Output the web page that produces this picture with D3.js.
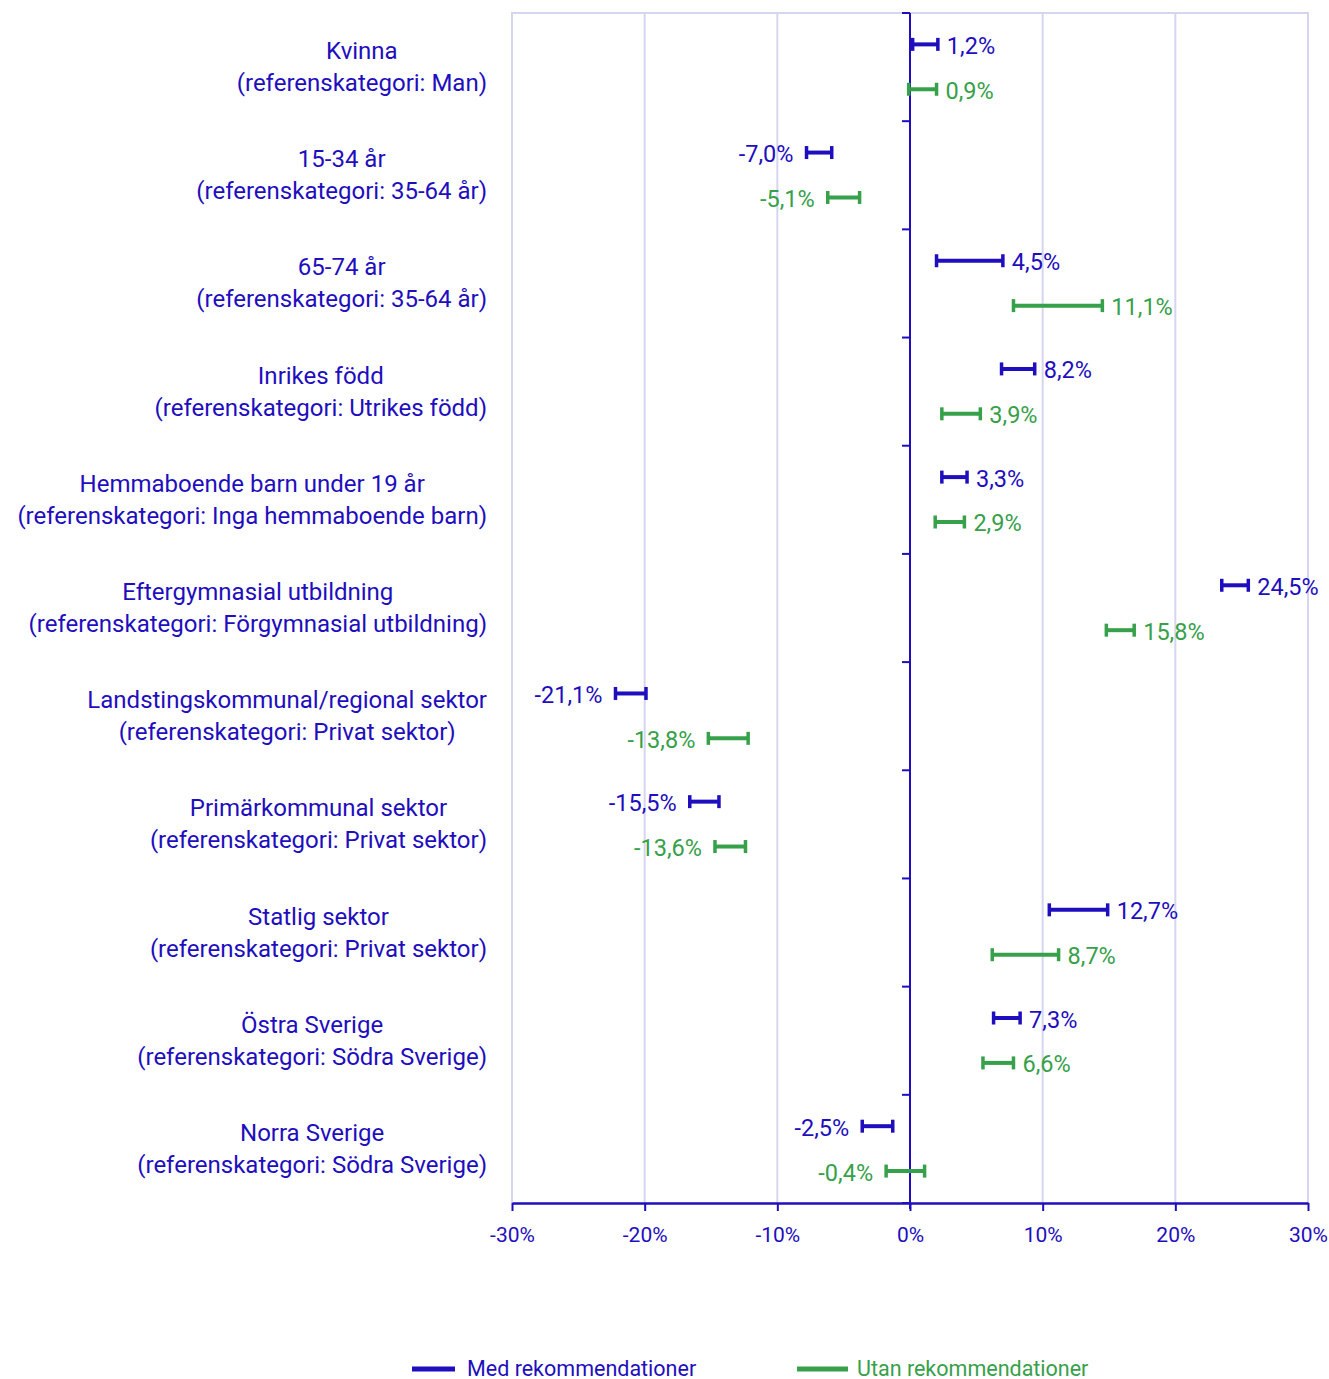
<!DOCTYPE html>
<html>
<head>
<meta charset="utf-8">
<script src="https://cdn.jsdelivr.net/npm/d3@7"></script>
<style>
  html, body { margin: 0; padding: 0; background: #fff; }
  svg { display: block; font-family: Roboto, "Noto Sans", sans-serif; }
</style>
</head>
<body>
<svg id="chart" width="1329" height="1379"></svg>
<script>
// Category labels (two lines each)
const categoryLine1 = [
  "Kvinna", "15-34 år", "65-74 år", "Inrikes född", "Hemmaboende barn under 19 år",
  "Eftergymnasial utbildning", "Landstingskommunal/regional sektor",
  "Primärkommunal sektor", "Statlig sektor", "Östra Sverige", "Norra Sverige"
];
const categoryLine2 = [
  "(referenskategori: Man)", "(referenskategori: 35-64 år)", "(referenskategori: 35-64 år)",
  "(referenskategori: Utrikes född)", "(referenskategori: Inga hemmaboende barn)",
  "(referenskategori: Förgymnasial utbildning)", "(referenskategori: Privat sektor)",
  "(referenskategori: Privat sektor)", "(referenskategori: Privat sektor)",
  "(referenskategori: Södra Sverige)", "(referenskategori: Södra Sverige)"
];

// Med rekommendationer: estimate and interval (percent)
const medValue = [1.2, -7.0, 4.5, 8.2, 3.3, 24.5, -21.1, -15.5, 12.7, 7.3, -2.5];
const medLow   = [0.2, -7.8, 2.0, 6.9, 2.4, 23.5, -22.2, -16.6, 10.5, 6.3, -3.6];
const medHigh  = [2.1, -5.9, 7.0, 9.4, 4.3, 25.5, -19.9, -14.4, 14.9, 8.3, -1.3];

// Utan rekommendationer: estimate and interval (percent)
const utanValue = [0.9, -5.1, 11.1, 3.9, 2.9, 15.8, -13.8, -13.6, 8.7, 6.6, -0.4];
const utanLow   = [-0.1, -6.2, 7.8, 2.4, 1.9, 14.8, -15.2, -14.7, 6.2, 5.5, -1.8];
const utanHigh  = [2.0, -3.8, 14.5, 5.3, 4.1, 16.9, -12.2, -12.4, 11.2, 7.8, 1.1];

const xTicks = [-30, -20, -10, 0, 10, 20, 30];
const seriesNames = ["Med rekommendationer", "Utan rekommendationer"];

const BLUE = "#1E0EBE";
const GREEN = "#37A04A";
const GRID = "#D5D5F0";

const svg = d3.select("#chart");
const plotLeft = 512, plotRight = 1308, plotTop = 13, plotBottom = 1203;

const locale = d3.formatLocale({
  decimal: ",", thousands: " ", grouping: [3], currency: ["", " kr"], minus: "-", percent: "%"
});
const fmtVal = v => locale.format(".1f")(v) + "%";
const fmtTick = v => locale.format("d")(v) + "%";

const x = d3.scaleLinear().domain([-30, 30]).range([plotLeft, plotRight]);
const y = d3.scaleBand().domain(d3.range(categoryLine1.length)).range([plotTop, plotBottom]).padding(0);
const bw = y.bandwidth();

// Grid lines and frame
const grid = svg.append("g");
grid.selectAll("line.v").data(xTicks).join("line")
  .attr("x1", d => x(d)).attr("x2", d => x(d))
  .attr("y1", plotTop).attr("y2", plotBottom)
  .attr("stroke", GRID).attr("stroke-width", 2);
grid.append("line")
  .attr("x1", plotLeft - 1).attr("x2", plotRight + 1).attr("y1", plotTop).attr("y2", plotTop)
  .attr("stroke", GRID).attr("stroke-width", 2);

// Bottom axis
const xAxis = svg.append("g")
  .attr("transform", `translate(0,${plotBottom})`)
  .call(d3.axisBottom(x).tickValues(xTicks).tickFormat(fmtTick).tickSizeInner(8).tickSizeOuter(0).tickPadding(16));
xAxis.select(".domain").attr("stroke", BLUE).attr("stroke-width", 2.5);
xAxis.selectAll(".tick line").attr("stroke", BLUE).attr("stroke-width", 2);
xAxis.selectAll(".tick text").attr("fill", BLUE).attr("font-size", 21).attr("font-family", "Roboto");

// Vertical zero axis with category separators
const zeroX = x(0);
svg.append("line")
  .attr("x1", zeroX).attr("x2", zeroX).attr("y1", plotTop).attr("y2", plotBottom + 6)
  .attr("stroke", BLUE).attr("stroke-width", 2);
const sepY = d3.range(categoryLine1.length + 1).map(i => plotTop + i * bw);
svg.append("g").selectAll("line").data(sepY).join("line")
  .attr("x1", zeroX - 8).attr("x2", zeroX).attr("y1", d => d).attr("y2", d => d)
  .attr("stroke", BLUE).attr("stroke-width", 2);

// Category labels: block right-aligned, lines centred within the block
const labelRight = 487;
const cats = svg.append("g").attr("fill", BLUE).attr("font-size", 24);
categoryLine1.forEach((l1, i) => {
  const g = cats.append("g");
  const cy = y(i) + bw / 2;
  const t1 = g.append("text").text(l1).attr("y", cy - 16).attr("dominant-baseline", "central");
  const t2 = g.append("text").text(categoryLine2[i]).attr("y", cy + 16).attr("dominant-baseline", "central");
  const w = Math.max(t1.node().getComputedTextLength(), t2.node().getComputedTextLength());
  const cx = labelRight - w / 2;
  t1.attr("x", cx).attr("text-anchor", "middle");
  t2.attr("x", cx).attr("text-anchor", "middle");
});

// Interval bars with caps and value labels
function drawSeries(values, lows, highs, color, frac) {
  const g = svg.append("g");
  const capH = 13;
  values.forEach((v, i) => {
    const yy = y(i) + bw * frac;
    const x1 = x(lows[i]), x2 = x(highs[i]);
    g.append("line").attr("x1", x1).attr("x2", x2).attr("y1", yy).attr("y2", yy)
      .attr("stroke", color).attr("stroke-width", 4);
    [x1, x2].forEach(cx => {
      g.append("line").attr("x1", cx).attr("x2", cx)
        .attr("y1", yy - capH / 2).attr("y2", yy + capH / 2)
        .attr("stroke", color).attr("stroke-width", 3.5);
    });
    const pos = v >= 0;
    g.append("text")
      .attr("x", pos ? x2 + 9 : x1 - 13)
      .attr("y", yy + 1.5)
      .attr("dominant-baseline", "central")
      .attr("text-anchor", pos ? "start" : "end")
      .attr("fill", color).attr("font-size", 23.5)
      .text(fmtVal(v));
  });
}
drawSeries(medValue, medLow, medHigh, BLUE, 0.29);
drawSeries(utanValue, utanLow, utanHigh, GREEN, 0.705);

// Legend
const legend = svg.append("g").attr("font-size", 21.5);
const legendItems = [
  { name: seriesNames[0], color: BLUE, x: 412, len: 43, gap: 55 },
  { name: seriesNames[1], color: GREEN, x: 797, len: 51, gap: 60 }
];
legendItems.forEach(d => {
  legend.append("line").attr("x1", d.x).attr("x2", d.x + d.len).attr("y1", 1369).attr("y2", 1369)
    .attr("stroke", d.color).attr("stroke-width", 5);
  legend.append("text").attr("x", d.x + d.gap).attr("y", 1368).attr("dominant-baseline", "central")
    .attr("fill", d.color).text(d.name);
});
</script>
</body>
</html>
